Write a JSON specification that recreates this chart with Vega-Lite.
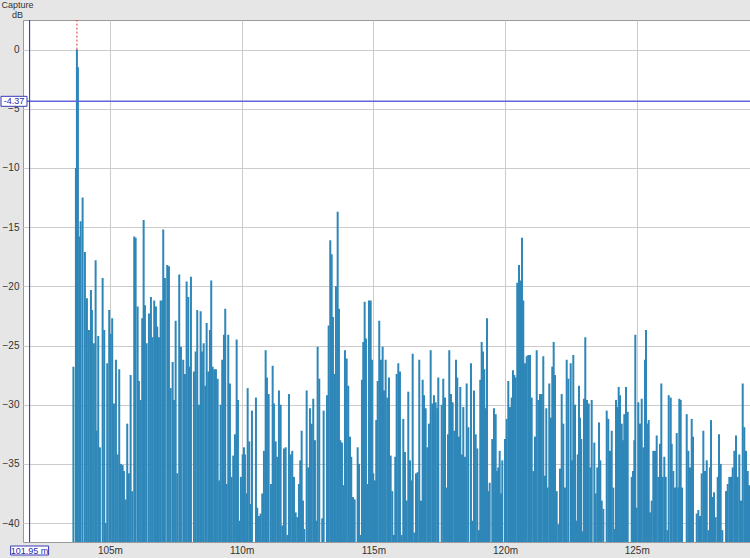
{
  "$schema": "https://vega.github.io/schema/vega-lite/v6.json",
  "width": 727,
  "height": 522,
  "autosize": "none",
  "padding": {"left": 23, "top": 20, "right": 0, "bottom": 16},
  "background": "#e6e6e6",
  "config": {
    "view": {"fill": "white", "stroke": "#9a9a9a", "strokeWidth": 1},
    "axis": {"labelFont": "Liberation Sans", "labelFontSize": 10, "labelColor": "#333333", "gridColor": "#cccccc", "gridWidth": 1, "domain": false, "ticks": false, "titleFont": "Liberation Sans"}
  },
  "datasets": {
    "one": [{}],
    "ir": [
      {"d":103.614,"v":-26.8},{"d":103.709,"v":-10},{"d":103.747,"v":0},{"d":103.785,"v":-1.5},{"d":103.834,"v":-15.8},{"d":103.888,"v":-14.5},{"d":103.963,"v":-12.5},
      {"d":104.051,"v":-17.1},{"d":104.127,"v":-21},{"d":104.203,"v":-23.7},{"d":104.279,"v":-20.3},{"d":104.317,"v":-22},{"d":104.392,"v":-24.8},{"d":104.457,"v":-17.8},{"d":104.495,"v":-32.2},{"d":104.556,"v":-24.2},{"d":104.620,"v":-33.6},{"d":104.723,"v":-19.3},{"d":104.784,"v":-23.7},{"d":104.837,"v":-40},{"d":104.898,"v":-26.5},{"d":104.973,"v":-22},
      {"d":105.027,"v":-24},{"d":105.087,"v":-22.7},{"d":105.152,"v":-29.9},{"d":105.228,"v":-26.2},{"d":105.292,"v":-34.2},{"d":105.353,"v":-27},{"d":105.418,"v":-35},{"d":105.482,"v":-35.1},{"d":105.532,"v":-35.6},{"d":105.596,"v":-38},{"d":105.657,"v":-31.6},{"d":105.721,"v":-35.8},{"d":105.786,"v":-27.5},{"d":105.847,"v":-37.3},{"d":105.923,"v":-15.8},{"d":105.976,"v":-15.9},
      {"d":106.052,"v":-21.7},{"d":106.101,"v":-28},{"d":106.166,"v":-29.6},{"d":106.226,"v":-22.7},{"d":106.280,"v":-14.4},{"d":106.329,"v":-21.6},{"d":106.394,"v":-24.8},{"d":106.481,"v":-22.3},{"d":106.557,"v":-20.9},{"d":106.621,"v":-24.3},{"d":106.682,"v":-21.2},{"d":106.747,"v":-21.7},{"d":106.796,"v":-23.4},{"d":106.861,"v":-24.3},{"d":106.925,"v":-21.2},{"d":106.986,"v":-21.2},
      {"d":107.024,"v":-15.2},{"d":107.088,"v":-19.3},{"d":107.176,"v":-18.2},{"d":107.240,"v":-18.3},{"d":107.305,"v":-28.6},{"d":107.381,"v":-26.4},{"d":107.430,"v":-29.6},{"d":107.495,"v":-22.9},{"d":107.555,"v":-35.8},{"d":107.631,"v":-19},{"d":107.696,"v":-25.1},{"d":107.745,"v":-45},{"d":107.783,"v":-26.2},{"d":107.848,"v":-27.4},{"d":107.912,"v":-19.6},{"d":107.973,"v":-20.9},
      {"d":108.038,"v":-26.8},{"d":108.076,"v":-19.2},{"d":108.125,"v":-45},{"d":108.189,"v":-27.2},{"d":108.254,"v":-25.5},{"d":108.315,"v":-22},{"d":108.379,"v":-30},{"d":108.444,"v":-22.1},{"d":108.493,"v":-25.5},{"d":108.558,"v":-24.8},{"d":108.619,"v":-28.4},{"d":108.672,"v":-23.1},{"d":108.733,"v":-27.2},{"d":108.797,"v":-23.7},{"d":108.846,"v":-19.5},{"d":108.900,"v":-26.8},{"d":108.960,"v":-27},
      {"d":109.025,"v":-27},{"d":109.089,"v":-27.8},{"d":109.150,"v":-36.4},{"d":109.203,"v":-30},{"d":109.264,"v":-26.2},{"d":109.329,"v":-24.1},{"d":109.378,"v":-21.9},{"d":109.431,"v":-36.7},{"d":109.492,"v":-24.1},{"d":109.556,"v":-28.2},{"d":109.621,"v":-36.1},{"d":109.682,"v":-34.3},{"d":109.746,"v":-32.5},{"d":109.811,"v":-24.5},{"d":109.860,"v":-29.6},{"d":109.910,"v":-39.8},{"d":109.974,"v":-36.1},
      {"d":110.039,"v":-34.2},{"d":110.088,"v":-33.6},{"d":110.126,"v":-34.2},{"d":110.191,"v":-37.5},{"d":110.229,"v":-28.6},{"d":110.289,"v":-33.1},{"d":110.342,"v":-38.4},{"d":110.392,"v":-30.5},{"d":110.456,"v":-45},{"d":110.544,"v":-29.4},{"d":110.593,"v":-38.7},{"d":110.658,"v":-39.4},{"d":110.722,"v":-39.2},{"d":110.783,"v":-37.5},{"d":110.847,"v":-33.9},{"d":110.912,"v":-25.4},{"d":110.961,"v":-27.7},
      {"d":111.026,"v":-29.1},{"d":111.113,"v":-36.7},{"d":111.178,"v":-26.7},{"d":111.227,"v":-29.9},{"d":111.292,"v":-33.1},{"d":111.352,"v":-34.4},{"d":111.417,"v":-28.8},{"d":111.481,"v":-30},{"d":111.542,"v":-40.2},{"d":111.607,"v":-33.7},{"d":111.671,"v":-33.6},{"d":111.732,"v":-41},{"d":111.797,"v":-29.1},{"d":111.861,"v":-34.2},{"d":111.922,"v":-33.9},{"d":111.987,"v":-36.1},
      {"d":112.051,"v":-39.1},{"d":112.112,"v":-39.5},{"d":112.176,"v":-36.7},{"d":112.226,"v":-34.7},{"d":112.279,"v":-32.2},{"d":112.328,"v":-38.1},{"d":112.378,"v":-40.5},{"d":112.431,"v":-45},{"d":112.469,"v":-28.8},{"d":112.530,"v":-35.3},{"d":112.594,"v":-30.3},{"d":112.659,"v":-31.6},{"d":112.719,"v":-29.5},{"d":112.784,"v":-33},{"d":112.833,"v":-39.8},{"d":112.886,"v":-25.1},{"d":112.947,"v":-27.8},
      {"d":113.000,"v":-45},{"d":113.061,"v":-39.6},{"d":113.114,"v":-30.5},{"d":113.175,"v":-45},{"d":113.240,"v":-29.2},{"d":113.304,"v":-23.3},{"d":113.365,"v":-16.1},{"d":113.418,"v":-17.3},{"d":113.467,"v":-22.6},{"d":113.532,"v":-27.4},{"d":113.581,"v":-20},{"d":113.646,"v":-13.7},{"d":113.695,"v":-21.9},{"d":113.745,"v":-33},{"d":113.809,"v":-33.2},{"d":113.874,"v":-36.8},{"d":113.923,"v":-25.4},{"d":113.988,"v":-26.1},
      {"d":114.048,"v":-28.4},{"d":114.113,"v":-32.7},{"d":114.162,"v":-34.4},{"d":114.227,"v":-37.8},{"d":114.291,"v":-38},{"d":114.341,"v":-45},{"d":114.405,"v":-33.6},{"d":114.455,"v":-35},{"d":114.504,"v":-41},{"d":114.568,"v":-27.9},{"d":114.618,"v":-24.7},{"d":114.671,"v":-21.3},{"d":114.720,"v":-24.4},{"d":114.785,"v":-36.7},{"d":114.834,"v":-21.2},{"d":114.899,"v":-21.2},{"d":114.948,"v":-26.2},{"d":114.998,"v":-35.8},
      {"d":115.062,"v":-36.4},{"d":115.111,"v":-31.3},{"d":115.165,"v":-28},{"d":115.225,"v":-22.9},{"d":115.290,"v":-26.2},{"d":115.354,"v":-25.1},{"d":115.404,"v":-28.8},{"d":115.468,"v":-26.2},{"d":115.529,"v":-29.4},{"d":115.594,"v":-27.7},{"d":115.658,"v":-34.3},{"d":115.719,"v":-37.3},{"d":115.784,"v":-41},{"d":115.833,"v":-34.4},{"d":115.886,"v":-27.4},{"d":115.947,"v":-26.5},
      {"d":116.011,"v":-27.2},{"d":116.076,"v":-41},{"d":116.137,"v":-31.2},{"d":116.201,"v":-34},{"d":116.266,"v":-38.1},{"d":116.327,"v":-28.9},{"d":116.391,"v":-34.7},{"d":116.440,"v":-36.4},{"d":116.494,"v":-25.7},{"d":116.554,"v":-40.8},{"d":116.619,"v":-35.8},{"d":116.683,"v":-35.7},{"d":116.744,"v":-26.2},{"d":116.809,"v":-38.1},{"d":116.873,"v":-27.9},{"d":116.923,"v":-29.2},{"d":116.987,"v":-30.3},
      {"d":117.048,"v":-33.6},{"d":117.112,"v":-31.6},{"d":117.177,"v":-25.4},{"d":117.238,"v":-29.9},{"d":117.302,"v":-29.2},{"d":117.367,"v":-29.8},{"d":117.428,"v":-30.3},{"d":117.466,"v":-27.7},{"d":117.530,"v":-45},{"d":117.595,"v":-30},{"d":117.655,"v":-27.8},{"d":117.720,"v":-29.4},{"d":117.785,"v":-37},{"d":117.834,"v":-32.5},{"d":117.883,"v":-25.4},{"d":117.948,"v":-29.1},
      {"d":118.012,"v":-29.8},{"d":118.073,"v":-32.2},{"d":118.138,"v":-26.2},{"d":118.187,"v":-27.7},{"d":118.252,"v":-32.7},{"d":118.301,"v":-28.5},{"d":118.365,"v":-34.2},{"d":118.415,"v":-30.2},{"d":118.479,"v":-34.4},{"d":118.544,"v":-28.2},{"d":118.605,"v":-31.9},{"d":118.707,"v":-26.5},{"d":118.772,"v":-39.8},{"d":118.821,"v":-28.8},{"d":118.886,"v":-32.5},{"d":118.946,"v":-33.7},
      {"d":119.011,"v":-40.6},{"d":119.060,"v":-27.9},{"d":119.113,"v":-24.7},{"d":119.163,"v":-25.5},{"d":119.212,"v":-27},{"d":119.265,"v":-30.3},{"d":119.315,"v":-22.7},{"d":119.364,"v":-37.3},{"d":119.417,"v":-36.6},{"d":119.467,"v":-45},{"d":119.516,"v":-32.9},{"d":119.580,"v":-30.3},{"d":119.645,"v":-30.8},{"d":119.694,"v":-35.6},{"d":119.744,"v":-35.3},{"d":119.797,"v":-33.9},{"d":119.846,"v":-37.5},{"d":119.896,"v":-34.7},{"d":119.934,"v":-45},{"d":119.998,"v":-32.9},
      {"d":120.063,"v":-31.2},{"d":120.124,"v":-28},{"d":120.188,"v":-30.2},{"d":120.253,"v":-29.4},{"d":120.302,"v":-27.1},{"d":120.351,"v":-27.5},{"d":120.404,"v":-27.7},{"d":120.465,"v":-19.7},{"d":120.530,"v":-18.2},{"d":120.579,"v":-19.5},{"d":120.644,"v":-15.9},{"d":120.693,"v":-21.2},{"d":120.758,"v":-26.5},{"d":120.822,"v":-25.9},{"d":120.883,"v":-25.8},{"d":120.947,"v":-25.8},
      {"d":121.012,"v":-29.4},{"d":121.073,"v":-35.6},{"d":121.137,"v":-32.7},{"d":121.202,"v":-25.4},{"d":121.263,"v":-29.6},{"d":121.327,"v":-29.1},{"d":121.392,"v":-29.1},{"d":121.452,"v":-25.9},{"d":121.517,"v":-36},{"d":121.566,"v":-30.3},{"d":121.620,"v":-37},{"d":121.680,"v":-28.2},{"d":121.745,"v":-31.1},{"d":121.794,"v":-26.8},{"d":121.847,"v":-24.7},{"d":121.897,"v":-27.5},{"d":121.961,"v":-37.3},
      {"d":122.022,"v":-40.1},{"d":122.087,"v":-35.4},{"d":122.151,"v":-29.1},{"d":122.212,"v":-31.6},{"d":122.276,"v":-37},{"d":122.341,"v":-26.2},{"d":122.402,"v":-27.8},{"d":122.493,"v":-26.5},{"d":122.542,"v":-34.7},{"d":122.592,"v":-25.8},{"d":122.656,"v":-30},{"d":122.705,"v":-39.8},{"d":122.759,"v":-34.2},{"d":122.808,"v":-28.4},{"d":122.846,"v":-31.1},{"d":122.895,"v":-32.9},{"d":122.948,"v":-40.7},{"d":122.998,"v":-29.5},
      {"d":123.047,"v":-24.3},{"d":123.112,"v":-29.6},{"d":123.176,"v":-29.9},{"d":123.237,"v":-35.3},{"d":123.290,"v":-29.6},{"d":123.340,"v":-45},{"d":123.389,"v":-33.2},{"d":123.442,"v":-37.5},{"d":123.503,"v":-35.3},{"d":123.567,"v":-31.5},{"d":123.617,"v":-34.7},{"d":123.670,"v":-38.1},{"d":123.731,"v":-38.8},{"d":123.784,"v":-45},{"d":123.860,"v":-30.5},{"d":123.920,"v":-31.2},{"d":123.985,"v":-33.9},
      {"d":124.050,"v":-32.2},{"d":124.110,"v":-37},{"d":124.164,"v":-40.5},{"d":124.213,"v":-29.6},{"d":124.262,"v":-30.2},{"d":124.315,"v":-28.5},{"d":124.365,"v":-29.2},{"d":124.429,"v":-31.6},{"d":124.479,"v":-33},{"d":124.528,"v":-30.8},{"d":124.593,"v":-28.5},{"d":124.657,"v":-30.6},{"d":124.706,"v":-45},{"d":124.756,"v":-45},{"d":124.809,"v":-36.1},{"d":124.858,"v":-35.6},{"d":124.908,"v":-33},{"d":124.946,"v":-24.1},{"d":124.999,"v":-38.7},
      {"d":125.060,"v":-29.8},{"d":125.124,"v":-31.6},{"d":125.189,"v":-29.5},{"d":125.249,"v":-33.6},{"d":125.314,"v":-26.2},{"d":125.352,"v":-23.7},{"d":125.401,"v":-31.6},{"d":125.454,"v":-31.3},{"d":125.504,"v":-39.1},{"d":125.568,"v":-38.1},{"d":125.629,"v":-33.9},{"d":125.694,"v":-33.9},{"d":125.758,"v":-32.6},{"d":125.819,"v":-36.1},{"d":125.884,"v":-33.3},{"d":125.933,"v":-28.2},{"d":125.986,"v":-36.1},
      {"d":126.047,"v":-34.4},{"d":126.100,"v":-36.1},{"d":126.161,"v":-40.6},{"d":126.214,"v":-29.2},{"d":126.290,"v":-29.4},{"d":126.328,"v":-33.3},{"d":126.388,"v":-35.6},{"d":126.453,"v":-37},{"d":126.518,"v":-32.4},{"d":126.578,"v":-37},{"d":126.616,"v":-29.5},{"d":126.669,"v":-29.6},{"d":126.719,"v":-37},{"d":126.768,"v":-45},{"d":126.833,"v":-45},{"d":126.897,"v":-30.8},{"d":126.958,"v":-33.9},
      {"d":127.023,"v":-35.3},{"d":127.087,"v":-31.2},{"d":127.136,"v":-32.7},{"d":127.201,"v":-45},{"d":127.277,"v":-39.2},{"d":127.338,"v":-38.9},{"d":127.402,"v":-39.4},{"d":127.467,"v":-35.8},{"d":127.528,"v":-32.2},{"d":127.592,"v":-35.6},{"d":127.657,"v":-34.7},{"d":127.718,"v":-40.6},{"d":127.782,"v":-35.3},{"d":127.820,"v":-31.3},{"d":127.869,"v":-37.8},{"d":127.934,"v":-37.4},{"d":127.998,"v":-39.5},
      {"d":128.074,"v":-36.1},{"d":128.124,"v":-32.5},{"d":128.188,"v":-35},{"d":128.249,"v":-40.6},{"d":128.314,"v":-45},{"d":128.390,"v":-37.3},{"d":128.454,"v":-36.7},{"d":128.515,"v":-36.1},{"d":128.579,"v":-36.1},{"d":128.644,"v":-35.3},{"d":128.705,"v":-33.9},{"d":128.769,"v":-32.6},{"d":128.834,"v":-36.1},{"d":128.894,"v":-34.2},{"d":128.959,"v":-38.1},
      {"d":129.024,"v":-28.2},{"d":129.084,"v":-31.9},{"d":129.149,"v":-33.9},{"d":129.213,"v":-35.6},{"d":129.263,"v":-36.8}
    ]
  },
  "layer": [
    {
      "data": {"name": "ir"},
      "mark": {"type": "rule", "clip": true, "strokeWidth": 2, "color": "#2e87b8"},
      "encoding": {
        "x": {"field": "d", "type": "quantitative", "scale": {"domain": [101.70, 129.30], "nice": false, "zero": false},
              "axis": {"values": [105, 110, 115, 120, 125], "labelExpr": "datum.value + 'm'", "title": null, "labelPadding": 3, "labelAlign": "center"}},
        "y": {"field": "v", "type": "quantitative", "scale": {"domain": [-41.6, 2.5], "nice": false, "zero": false},
              "axis": {"values": [-40, -35, -30, -25, -20, -15, -10, -5, 0], "title": ["Capture", "dB"], "titleAngle": 0, "titleX": -6, "titleY": -20, "titleAlign": "center", "titleBaseline": "top", "titleLineHeight": 10, "titleFontSize": 9, "titleFontWeight": "normal", "titleColor": "#333333", "labelPadding": 4}},
        "y2": {"datum": -50}
      }
    },
    {
      "data": {"name": "one"},
      "mark": {"type": "rule", "color": "#e03030", "strokeDash": [2, 2], "strokeWidth": 1},
      "encoding": {"x": {"datum": 103.747}, "y": {"datum": 0}, "y2": {"datum": 2.5}}
    },
    {
      "data": {"name": "one"},
      "mark": {"type": "rule", "color": "#6464dc", "strokeWidth": 1.4},
      "encoding": {"y": {"datum": -4.37}}
    },
    {
      "data": {"name": "one"},
      "mark": {"type": "rule", "color": "#3a3ab8", "strokeWidth": 1.1},
      "encoding": {"x": {"datum": 101.95}}
    },
    {
      "data": {"name": "one"},
      "mark": {"type": "rect", "fill": "white", "stroke": "#3a3ab8", "strokeWidth": 1, "clip": false, "xOffset": -22, "x2Offset": 4, "yOffset": -5, "y2Offset": 5},
      "encoding": {"x": {"datum": 101.70}, "x2": {"datum": 101.70}, "y": {"datum": -4.37}, "y2": {"datum": -4.37}}
    },
    {
      "data": {"name": "one"},
      "mark": {"type": "text", "text": "-4.37", "color": "#2a2ab0", "font": "Liberation Sans", "fontSize": 9, "align": "center", "baseline": "middle", "dx": -9},
      "encoding": {"x": {"datum": 101.70}, "y": {"datum": -4.37}}
    },
    {
      "data": {"name": "one"},
      "mark": {"type": "rect", "fill": "white", "stroke": "#3a3ab8", "strokeWidth": 1, "clip": false, "xOffset": -19, "x2Offset": 19, "yOffset": 4, "y2Offset": 13},
      "encoding": {"x": {"datum": 101.95}, "x2": {"datum": 101.95}, "y": {"datum": -41.6}, "y2": {"datum": -41.6}}
    },
    {
      "data": {"name": "one"},
      "mark": {"type": "text", "text": "101.95 m", "color": "#2a2ab0", "font": "Liberation Sans", "fontSize": 9, "align": "center", "baseline": "middle", "dy": 8.5},
      "encoding": {"x": {"datum": 101.95}, "y": {"datum": -41.6}}
    }
  ]
}
